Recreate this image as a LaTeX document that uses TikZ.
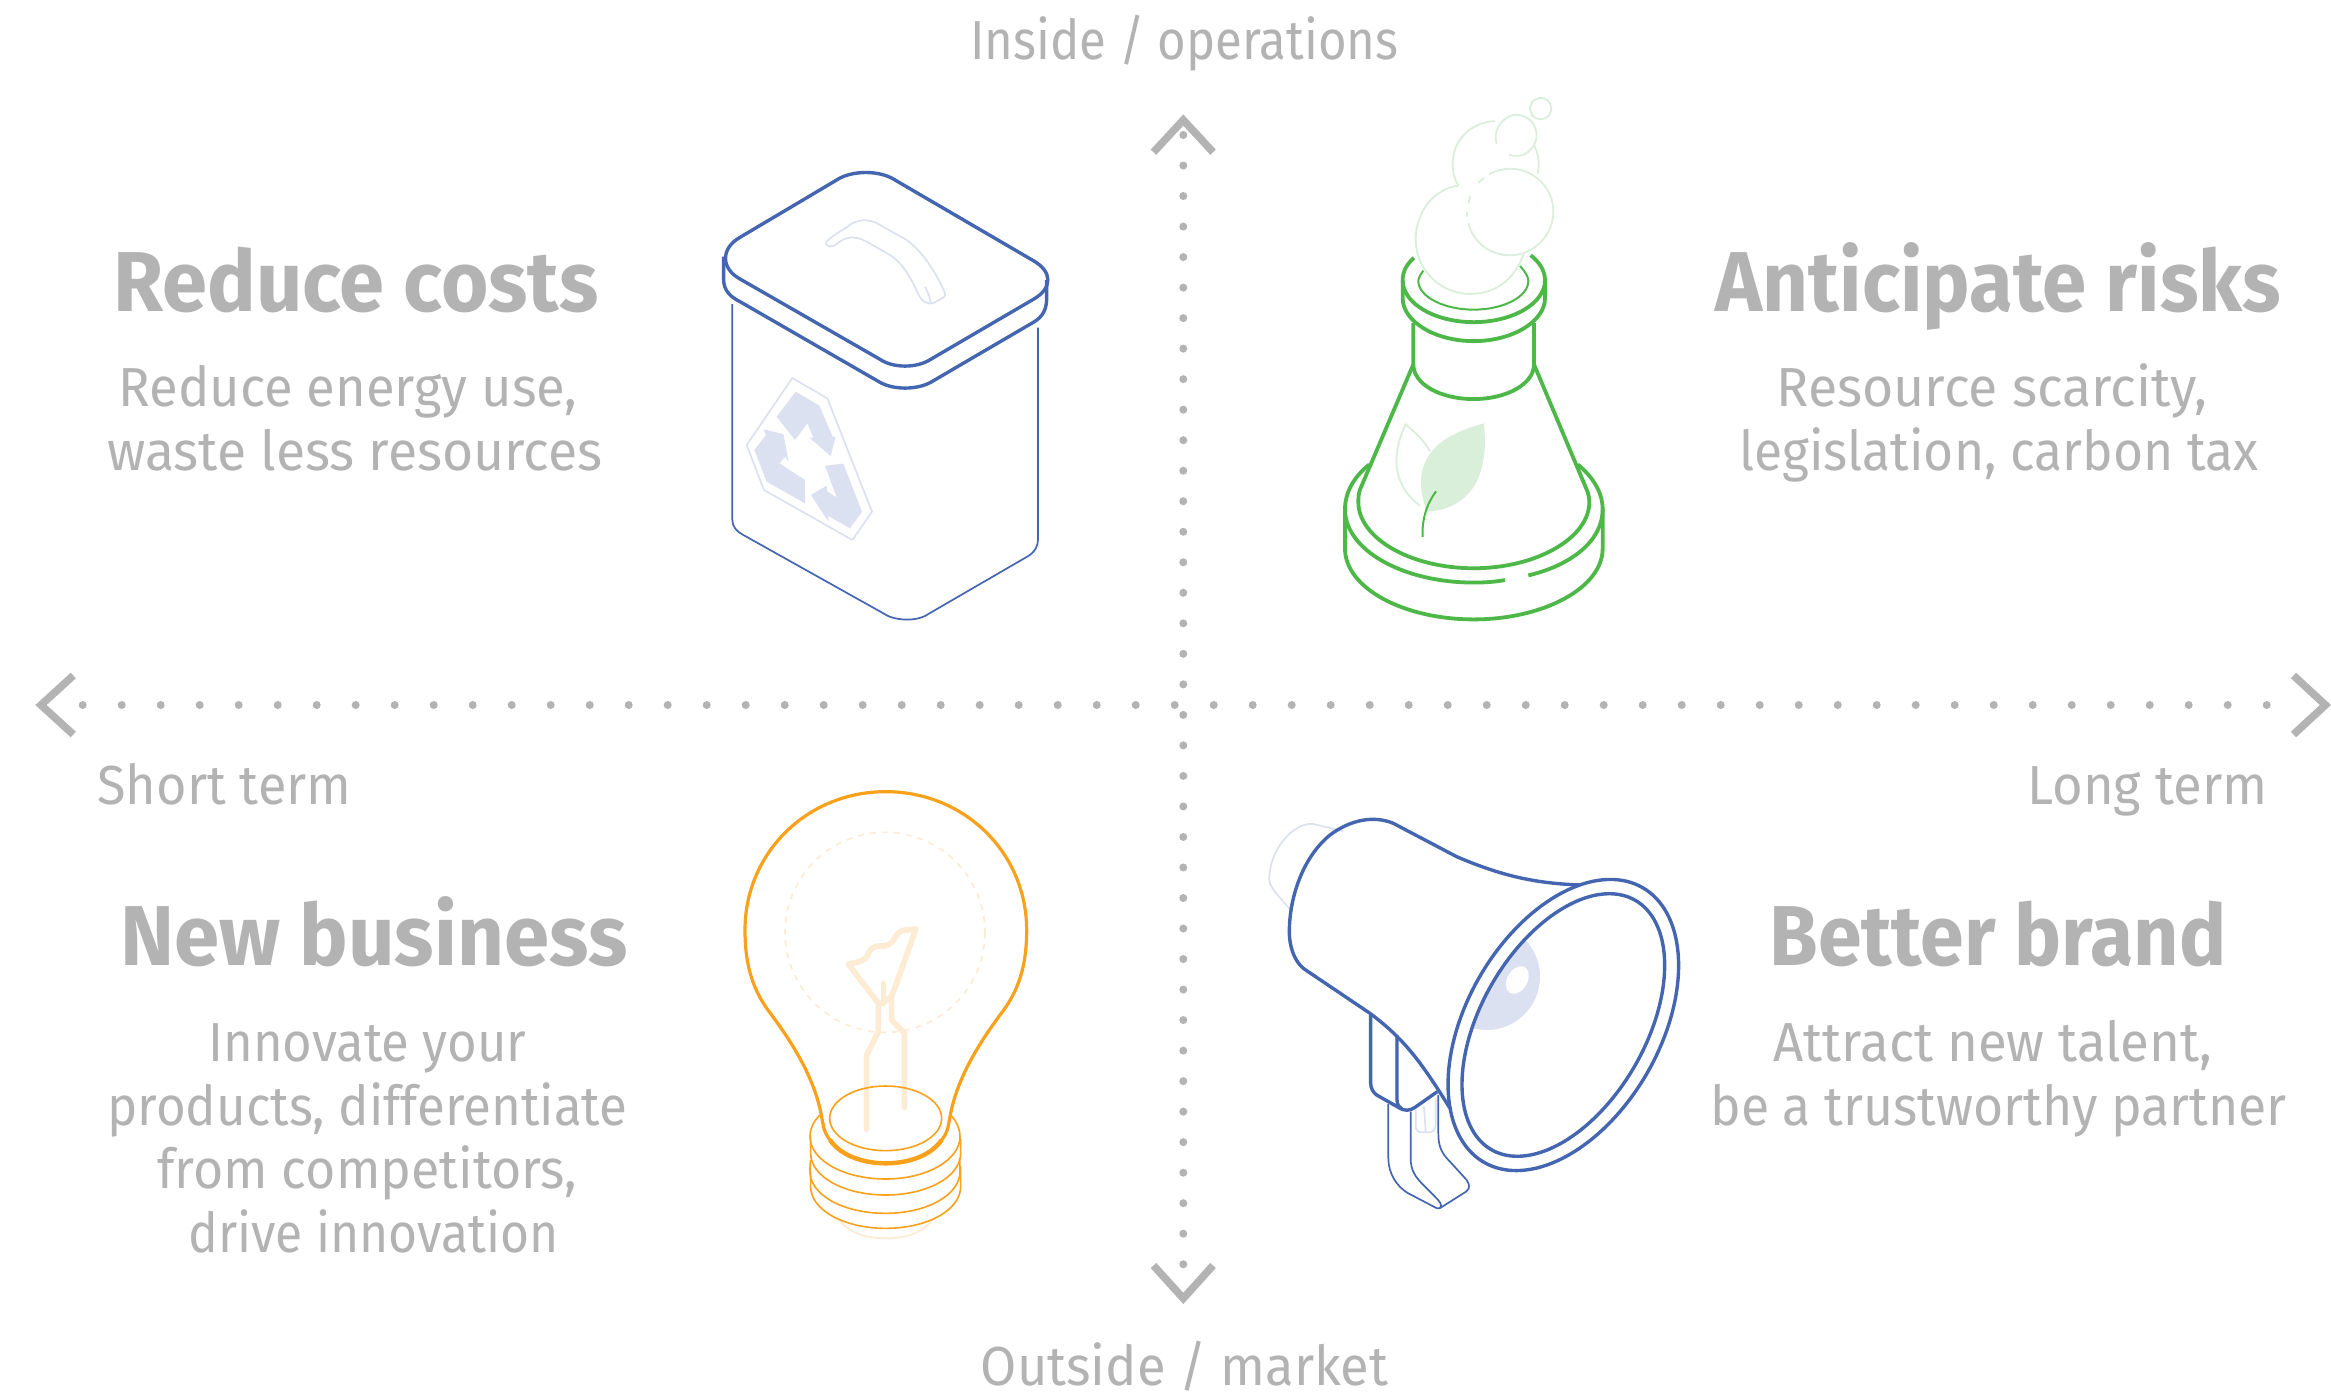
\documentclass[tikz,border=0pt]{standalone}
\usepackage{fontspec}
\usepackage{graphicx}
\setmainfont{Fira Sans}
\definecolor{txtgray}{HTML}{B3B3B3}
\definecolor{inkblue}{HTML}{4466B0}
\definecolor{paleblue}{HTML}{DCE1F1}
\definecolor{inkgreen}{HTML}{4DB848}
\definecolor{palegreen}{HTML}{DAEFDA}
\definecolor{inkorange}{HTML}{F9A11B}
\definecolor{paleorange}{HTML}{FEEBD3}
\newcommand{\regtype}{\fontsize{27.5}{30}\selectfont}
\newcommand{\headtype}{\fontsize{42.5}{46}\selectfont\bfseries}
\newcommand{\textrun}[6]{%
  \pgfmathsetmacro{\runw}{(#4-#3)*0.5}%
  \node[inner sep=0pt,anchor=base west,text=txtgray] (#1) at (#3,#5) {\resizebox{\runw pt}{\height}{#2#6}};}
\newcommand{\rotring}[6]{plot[domain=0:360,samples=140] ({#1+(#3)*cos(\x)+(#5)*sin(\x)},{#2+(#4)*cos(\x)+(#6)*sin(\x)}) -- cycle}
\tikzset{
  dotline/.style={draw=txtgray,line width=4pt,line cap=round},
  chevron/.style={draw=txtgray,line width=3.8pt,miter limit=10},
  bluethick/.style={draw=inkblue,line width=1.7pt,line join=round},
  bluethin/.style={draw=inkblue,line width=.85pt,line join=round},
  bluepale/.style={draw=paleblue,line width=.85pt,line join=round},
  greenthick/.style={draw=inkgreen,line width=1.9pt,line join=round},
  greenthin/.style={draw=inkgreen,line width=1pt},
  greenpale/.style={draw=palegreen,line width=.9pt},
  orangethick/.style={draw=inkorange,line width=1.6pt,line join=round},
  orangethin/.style={draw=inkorange,line width=.8pt},
  filament/.style={draw=paleorange,line width=2.8pt,line cap=round,line join=round},
}
\begin{document}
\begin{tikzpicture}[x=0.5pt,y=-0.5pt]
\useasboundingbox (0,0) rectangle (2331,1392);
\fill[white] (0,0) rectangle (2331,1392);

% axes
\coordinate (west) at (82.7,705);
\coordinate (east) at (2305.7,705);
\coordinate (north) at (1183.3,135);
\coordinate (south) at (1183.3,1264.5);
\draw[dotline,dash pattern=on 0pt off 19.5pt] (west) -- (east);
\draw[dotline,dash pattern=on 0pt off 15.26pt] (north) -- (south);
\draw[chevron] (73.3,675.5) -- (41,705) -- (73.3,734.5);
\draw[chevron] (2293.5,675.5) -- (2325.4,705) -- (2293.5,734.5);
\draw[chevron] (1153.5,152.2) -- (1183.3,120) -- (1213,152.2);
\draw[chevron] (1153.5,1265.5) -- (1183.3,1298.4) -- (1213,1265.5);

% axis labels
\textrun{insidelbl}{\regtype}{969.7}{1398}{59.3}{Inside / operations}
\textrun{outsidelbl}{\regtype}{980.3}{1388}{1385}{Outside / market}
\textrun{shortlbl}{\regtype}{97}{351}{804.5}{Short term}
\textrun{longlbl}{\regtype}{2027}{2267}{804.5}{Long term}

% quadrant texts
\textrun{h1}{\headtype}{113}{598}{311}{Reduce costs}
\textrun{t1a}{\regtype}{118}{577}{406}{Reduce energy use,}
\textrun{t1b}{\regtype}{107}{602}{470}{waste less resources}
\textrun{h2}{\headtype}{1715.5}{2280.5}{311}{Anticipate risks}
\textrun{t2a}{\regtype}{1776}{2207}{406}{Resource scarcity,}
\textrun{t2b}{\regtype}{1739}{2258}{470}{legislation, carbon tax}
\textrun{h3}{\headtype}{120}{627}{965.5}{New business}
\textrun{t3a}{\regtype}{208}{526}{1061}{Innovate your}
\textrun{t3b}{\regtype}{107}{627}{1125}{products, differentiate}
\textrun{t3c}{\regtype}{157}{577}{1188.5}{from competitors,}
\textrun{t3d}{\regtype}{188}{558}{1252.5}{drive innovation}
\textrun{h4}{\headtype}{1769}{2226}{965.5}{Better brand}
\textrun{t4a}{\regtype}{1773}{2212}{1061}{Attract new talent,}
\textrun{t4b}{\regtype}{1710}{2286}{1125}{be a trustworthy partner}

% bin
\begin{scope}[shift={(690,140)},scale=0.33333]
  \draw[bluethin] (127,492) -- (127,1140) .. controls (127,1160) and (140,1175) .. (160,1185) -- (580,1420) .. controls (610,1442) and (680,1447) .. (715,1422) -- (1015,1248) .. controls (1035,1235) and (1044,1220) .. (1044,1195) -- (1044,563);
  \draw[bluethick] (440,120) -- (150,292) .. controls (92,325) and (92,385) .. (150,417) -- (570,658) .. controls (610,685) and (680,685) .. (722,658) -- (1030,478) .. controls (1088,445) and (1088,395) .. (1030,362) -- (615,120) .. controls (570,90) and (485,90) .. (440,120) -- cycle;
  \draw[bluethick] (101,350) -- (101,420) .. controls (101,450) and (120,470) .. (150,485) -- (570,727) .. controls (610,750) and (680,750) .. (722,727) -- (1030,547) .. controls (1060,530) and (1070,505) .. (1070,475) -- (1070,420);
  \draw[bluepale] (410,305) .. controls (430,285) and (450,275) .. (470,262) .. controls (500,235) and (540,235) .. (570,255) -- (650,300) .. controls (700,335) and (745,410) .. (765,460) .. controls (768,470) and (760,472) .. (750,478) -- (735,487) .. controls (715,497) and (695,485) .. (685,462) .. controls (665,420) and (640,370) .. (600,345) -- (530,305) .. controls (495,285) and (465,290) .. (440,312) .. controls (430,325) and (400,320) .. (410,305) -- cycle;
  \draw[bluepale] (722,490) .. controls (722,475) and (715,460) .. (705,440);
  \draw[bluepale] (307,714) -- (412,775) -- (546,1115) -- (487,1200) -- (222,1050) -- (170,915) -- cycle;
  \fill[paleblue] (317,755) -- (388,797) -- (428,890) -- (437,890) -- (422,948) -- (358,893) -- (370,893) -- (352,850) -- (315,900) -- (260,830) -- cycle;
  \fill[paleblue] (220,868) -- (280,882) -- (296,965) -- (285,950) -- (268,970) -- (345,1020) -- (345,1090) -- (230,1025) -- (193,930) -- (228,885) -- cycle;
  \fill[paleblue] (405,977) -- (460,971) -- (516,1115) -- (480,1165) -- (415,1128) -- (415,1145) -- (363,1065) -- (410,1037) -- (412,1055) -- (440,1072) -- cycle;
\end{scope}

% flask
\begin{scope}[shift={(1310,80)},xscale=0.33333,yscale=0.3577]
  \draw[greenpale] (692,80) ellipse [x radius=32,y radius=30];
  \draw[greenpale] (560,178) .. controls (545,130) and (590,97) .. (618,97) .. controls (655,97) and (680,125) .. (680,155) .. controls (680,190) and (640,225) .. (597,208);
  \draw[greenpale] (555,115) .. controls (480,118) and (428,170) .. (428,235) .. controls (428,260) and (435,280) .. (445,295);
  \draw[greenpale] (672,182) .. controls (685,205) and (690,235) .. (683,262);
  \draw[greenpale] (445,295) .. controls (370,305) and (317,370) .. (317,445) .. controls (317,530) and (390,598) .. (480,598) .. controls (550,598) and (610,565) .. (642,485);
  \draw[greenpale] (537,263) .. controls (560,253) and (580,248) .. (600,248) .. controls (670,248) and (730,300) .. (730,368) .. controls (730,435) and (670,490) .. (600,490) .. controls (540,490) and (490,455) .. (475,400);
  \draw[greenpale] (471,382) -- (471,368) (475,345) -- (481,325) (505,287) -- (522,274);
  \draw[greenpale] (330,1190) .. controls (270,1150) and (255,1090) .. (260,1050) .. controls (262,1020) and (275,985) .. (287,963) .. controls (315,985) and (340,1005) .. (360,1038);
  \fill[palegreen] (522,960) .. controls (440,980) and (385,1010) .. (360,1045) .. controls (330,1085) and (330,1125) .. (335,1150) .. controls (340,1180) and (345,1190) .. (348,1207) .. controls (430,1205) and (490,1160) .. (510,1100) .. controls (530,1040) and (525,1000) .. (522,960) -- cycle;
  \draw[greenthin] (378,1150) .. controls (350,1185) and (335,1230) .. (338,1277);
  \draw[greenthin] (340,533) .. controls (330,545) and (325,555) .. (325,562) .. controls (325,605) and (400,642) .. (491,642) .. controls (582,642) and (655,605) .. (655,562) .. controls (655,550) and (645,535) .. (630,520);
  \draw[greenthick] (312,497) .. controls (290,515) and (278,535) .. (278,560) .. controls (278,625) and (375,677) .. (491,677) .. controls (607,677) and (705,625) .. (705,560) .. controls (705,535) and (690,510) .. (662,490);
  \draw[greenthick] (278,560) -- (278,610) .. controls (278,675) and (375,730) .. (491,730) .. controls (607,730) and (705,675) .. (705,610) -- (705,560);
  \draw[greenthick] (310,680) -- (310,795) .. controls (310,850) and (390,892) .. (491,892) .. controls (590,892) and (672,850) .. (672,795) -- (672,680);
  \draw[greenthick] (310,795) -- (150,1145) .. controls (145,1160) and (145,1170) .. (145,1180) .. controls (145,1280) and (300,1365) .. (491,1365) .. controls (680,1365) and (838,1280) .. (838,1180) .. controls (838,1170) and (835,1155) .. (830,1145) -- (672,795);
  \draw[greenthick] (178,1075) .. controls (130,1110) and (105,1155) .. (105,1200) .. controls (105,1315) and (280,1405) .. (491,1405) .. controls (525,1405) and (555,1403) .. (585,1398);
  \draw[greenthick] (655,1385) .. controls (790,1355) and (878,1285) .. (878,1200) .. controls (878,1155) and (850,1110) .. (803,1075);
  \draw[greenthick] (105,1200) -- (105,1310) .. controls (105,1420) and (280,1508) .. (491,1508) .. controls (700,1508) and (878,1420) .. (878,1310) -- (878,1200);
\end{scope}

% bulb
\begin{scope}[shift={(720,770)},scale=0.33333]
  \draw[paleorange,line width=.8pt,dash pattern=on 3pt off 3pt] (495,487) circle [radius=300];
  \draw[paleorange,line width=.9pt] (355,1345) .. controls (385,1390) and (440,1405) .. (497,1405) .. controls (555,1405) and (610,1390) .. (640,1345);
  \draw[filament] (440,1078) -- (440,855) -- (475,785) -- (475,700) -- (385,582) .. controls (420,575) and (435,575) .. (445,550) .. controls (460,520) and (480,530) .. (495,528) .. controls (525,520) and (525,490) .. (545,482) .. controls (560,478) and (570,482) .. (588,476) -- (515,680) -- (515,750) -- (553,790) -- (553,1012);
  \draw[filament] (490,640) -- (490,700);
  \draw[filament,line cap=butt] (475,705) -- (515,680);
  \draw[orangethin] (497,1045) ellipse [x radius=168,y radius=97];
  \draw[orangethin] (300,1035) .. controls (280,1055) and (270,1075) .. (270,1100) .. controls (270,1170) and (370,1227) .. (497,1227) .. controls (620,1227) and (720,1170) .. (720,1100) .. controls (720,1075) and (710,1055) .. (692,1035);
  \draw[orangethin] (272,1100) -- (272,1150) .. controls (272,1220) and (372,1275) .. (497,1275) .. controls (622,1275) and (722,1220) .. (722,1150) -- (722,1105);
  \draw[orangethin] (272,1170) .. controls (270,1180) and (270,1190) .. (270,1205) .. controls (270,1275) and (370,1330) .. (497,1330) .. controls (620,1330) and (720,1275) .. (720,1205) .. controls (720,1190) and (720,1180) .. (718,1165);
  \draw[orangethin] (272,1205) -- (272,1250) .. controls (272,1320) and (372,1375) .. (497,1375) .. controls (622,1375) and (722,1320) .. (722,1250) -- (722,1190);
  \draw[orangethick] (305,1040) .. controls (285,930) and (225,830) .. (155,735) .. controls (100,665) and (75,590) .. (75,480) .. controls (75,250) and (260,65) .. (497,65) .. controls (735,65) and (920,250) .. (920,480) .. controls (920,590) and (895,665) .. (840,735) .. controls (770,830) and (710,930) .. (690,1040) .. controls (685,1065) and (685,1085) .. (665,1110) .. controls (630,1160) and (560,1180) .. (497,1180) .. controls (435,1180) and (365,1160) .. (330,1110) .. controls (310,1085) and (310,1065) .. (305,1040) -- cycle;
  \draw[orangethick,line width=2.2pt] (330,1110) .. controls (365,1160) and (435,1180) .. (497,1180) .. controls (560,1180) and (630,1160) .. (665,1110);
\end{scope}

% megaphone
\begin{scope}[shift={(1250,800)},scale=0.33333]
  \draw[bluepale] (278,93) -- (190,72) .. controls (130,65) and (60,150) .. (58,230) .. controls (55,260) and (75,275) .. (122,330);
  \begin{scope}
    \clip \rotring{940}{675}{216}{-374}{214}{123.5};
    \fill[paleblue] (710,530) circle [radius=160];
    \fill[white] \rotring{802}{540}{22}{-38}{26}{15};
  \end{scope}
  \draw[bluepale] (497,930) -- (497,980) .. controls (497,990) and (505,997) .. (515,997) -- (540,997) .. controls (550,997) and (557,985) .. (557,975) -- (557,895);
  \draw[bluepale] (522,920) -- (527,995);
  \draw[bluepale] (438,705) -- (438,900);
  \draw[bluethin] (415,912) -- (415,1075) .. controls (415,1120) and (440,1160) .. (475,1180) -- (555,1222) .. controls (565,1228) and (570,1225) .. (580,1218) -- (648,1175) .. controls (660,1165) and (660,1155) .. (650,1140) -- (600,1085) .. controls (575,1060) and (565,1040) .. (565,1000) -- (565,885);
  \draw[bluethin] (482,935) -- (482,1075) .. controls (482,1110) and (495,1130) .. (520,1155) -- (555,1190) .. controls (570,1205) and (578,1215) .. (570,1225);
  \draw[bluethick] (362,645) -- (362,850) .. controls (362,865) and (370,878) .. (380,885) -- (445,922) .. controls (465,935) and (480,932) .. (495,922) -- (562,875);
  \draw[bluethick] (441,705) -- (441,900) .. controls (441,915) and (448,922) .. (455,926);
  \draw[bluethick] (990,255) .. controls (860,250) and (760,230) .. (620,170) -- (430,70) .. controls (370,45) and (300,60) .. (240,105) .. controls (160,170) and (118,290) .. (118,395) .. controls (118,450) and (140,495) .. (170,512) -- (360,640) .. controls (460,715) and (510,780) .. (600,925);
  \draw[bluethick] \rotring{940}{675}{238}{-412}{251}{145};
  \draw[bluethick] \rotring{940}{675}{216}{-374}{214}{123.5};
\end{scope}
\end{tikzpicture}
\end{document}
